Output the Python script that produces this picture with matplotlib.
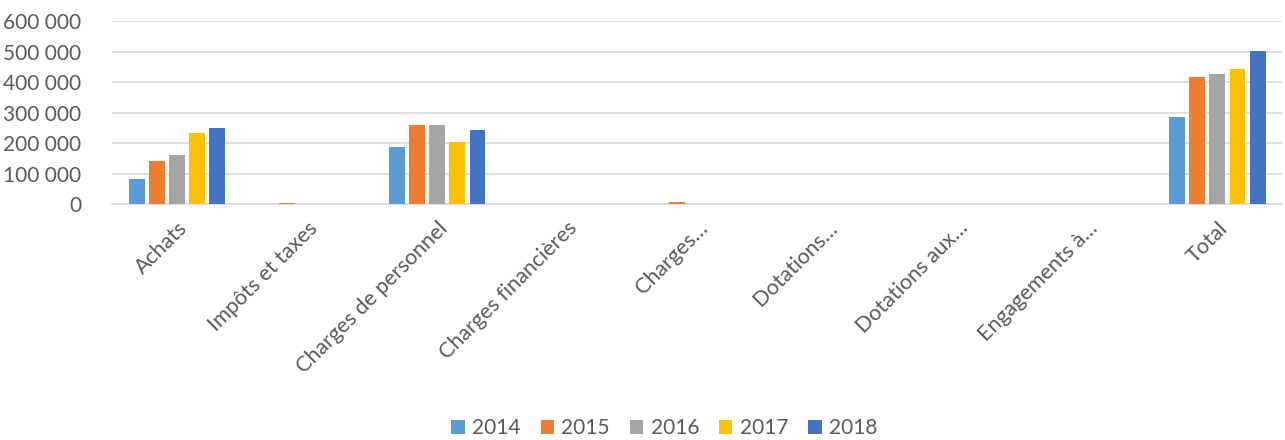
import numpy as np
import matplotlib.pyplot as plt

# categories and yearly values
categories = ["Achats", "Impôts et taxes", "Charges de personnel", "Charges financières",
              "Charges…", "Dotations…", "Dotations aux…", "Engagements à…", "Total"]
years = ["2014", "2015", "2016", "2017", "2018"]
v2014 = [84000, 0, 189000, 0, 2000, 0, 1500, 1500, 286000]
v2015 = [142000, 3000, 261000, 0, 6000, 0, 0, 0, 418000]
v2016 = [160000, 2000, 260000, 0, 0, 0, 0, 0, 426000]
v2017 = [233000, 0, 204000, 0, 0, 0, 0, 0, 443000]
v2018 = [250000, 2000, 242000, 0, 0, 0, 0, 0, 502000]
colors = ["#5B9BD5", "#ED7D31", "#A5A5A5", "#FFC000", "#4472C4"]

plt.rcParams['font.family'] = ['Lato', 'DejaVu Sans']
grey = "#595959"

fig = plt.figure(figsize=(12.85, 4.4), dpi=100)
ax = fig.add_axes([0.0872, 0.536, 0.9108, 0.416])

x = np.arange(len(categories))
step = 0.155
width = 0.122
series = [v2014, v2015, v2016, v2017, v2018]
for i, (vals, yr, c) in enumerate(zip(series, years, colors)):
    ax.bar(x + (i - 2) * step, vals, width=width, color=c, label=yr, zorder=3)

ax.set_xlim(-0.5, len(categories) - 0.5)
ax.set_ylim(0, 600000)
ax.set_yticks(np.arange(0, 600001, 100000))
ax.set_yticklabels([f"{int(v):,}".replace(",", " ") for v in np.arange(0, 600001, 100000)])
ax.yaxis.grid(True, color="#D9D9D9", linewidth=1.2, zorder=0)
for s in ["top", "right", "left"]:
    ax.spines[s].set_visible(False)
ax.spines["bottom"].set_color("#D9D9D9")
ax.spines["bottom"].set_linewidth(1.2)
ax.tick_params(axis="x", length=0, colors=grey, labelsize=15.5, pad=10)
ax.tick_params(axis="y", length=0, colors=grey, labelsize=15, pad=22)
ax.set_xticks(x)
ax.set_xticklabels(categories, rotation=45, ha="right", rotation_mode="anchor")

leg = fig.legend(loc="lower center", bbox_to_anchor=(0.517, -0.038), ncol=5, frameon=False,
                 fontsize=15, handlelength=0.65, handleheight=0.65, columnspacing=0.95,
                 handletextpad=0.35)
for t in leg.get_texts():
    t.set_color(grey)

fig.savefig("out.png", dpi=100)
